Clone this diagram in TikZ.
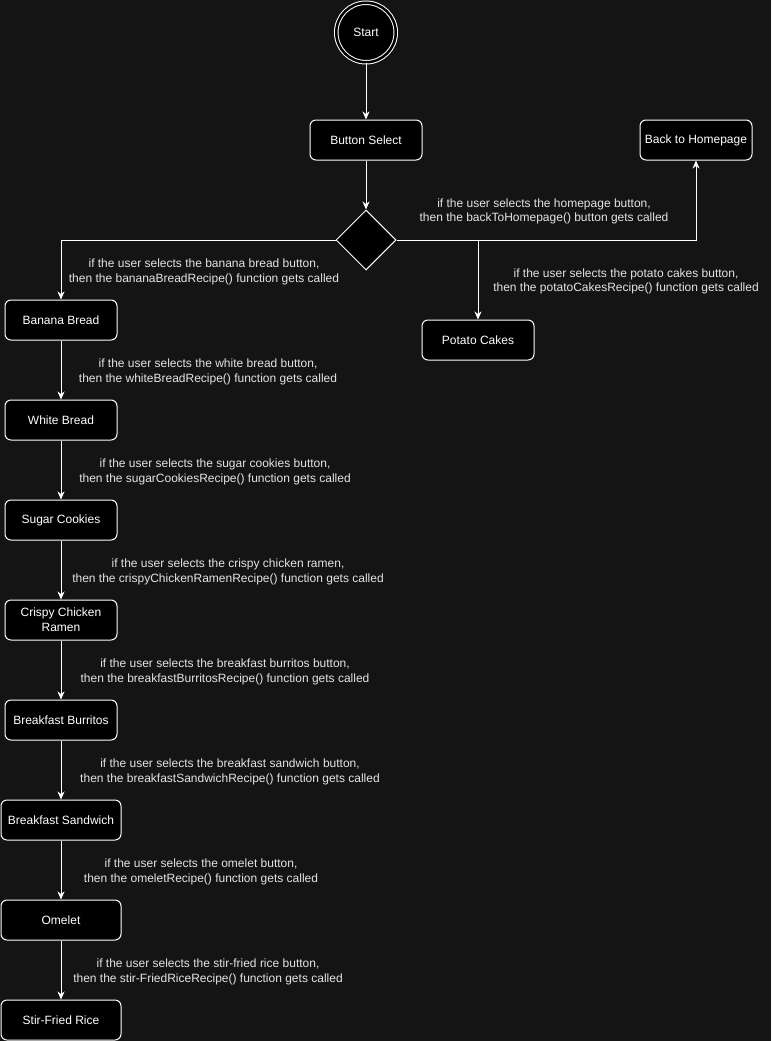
\documentclass[tikz,border=0pt]{standalone}
\usepackage{fontspec}
\setmainfont{Liberation Sans}
\usetikzlibrary{arrows.meta,shapes.geometric}
\definecolor{canvas}{HTML}{141414}
\definecolor{labeltext}{HTML}{E4E4E4}
\begin{document}
\begin{tikzpicture}[x=1pt,y=-1pt,
  box/.style={draw=white, fill=black, line width=1pt, rounded corners=6pt,
    minimum width=112pt, minimum height=40pt, inner sep=0pt,
    text=white, align=center, font=\fontsize{12}{15}\selectfont},
  widebox/.style={box, minimum width=120pt},
  startnode/.style={circle, draw=white, double=black, double distance=2.5pt,
    line width=1pt, fill=black, minimum size=59.5pt, inner sep=0pt,
    text=white, font=\fontsize{12}{15}\selectfont},
  choice/.style={diamond, draw=white, fill=black, line width=1pt,
    minimum width=60pt, minimum height=60pt, inner sep=0pt},
  flow/.style={draw=white, line width=1pt,
    -{Stealth[length=8pt,width=7pt,inset=2.5pt]}},
  cond/.style={text=labeltext, align=center, inner sep=0pt,
    font=\fontsize{12}{14.5}\selectfont}
]
  % canvas
  \fill[canvas] (0,0) rectangle (771,1041);
  \useasboundingbox (0,0) rectangle (771,1041);

  % top of the flow
  \node[startnode] (start) at (366,32.5) {Start};
  \node[box] (select) at (366,140) {Button Select};
  \node[choice] (pick) at (366,240) {};
  \node[box] (home) at (696,140) {Back to Homepage};
  \node[box] (potato) at (478,340) {Potato Cakes};

  % recipe column
  \node[box] (banana) at (61,320) {Banana Bread};
  \node[box] (white) at (61,420) {White Bread};
  \node[box] (sugar) at (61,520) {Sugar Cookies};
  \node[box] (ramen) at (61,620) {Crispy Chicken\\Ramen};
  \node[box] (burrito) at (61,720) {Breakfast Burritos};
  \node[widebox] (sandwich) at (61,820) {Breakfast Sandwich};
  \node[widebox] (omelet) at (61,920) {Omelet};
  \node[widebox] (rice) at (61,1020) {Stir-Fried Rice};

  % connectors
  \draw[flow] (start) -- (select);
  \draw[flow] (select) -- (pick);
  \draw[flow] (pick.east) -| (home.south);
  \draw[flow] (pick.east) -| (potato.north);
  \draw[flow] (pick.west) -| (banana.north);
  \draw[flow] (banana) -- (white);
  \draw[flow] (white) -- (sugar);
  \draw[flow] (sugar) -- (ramen);
  \draw[flow] (ramen) -- (burrito);
  \draw[flow] (burrito) -- (sandwich);
  \draw[flow] (sandwich) -- (omelet);
  \draw[flow] (omelet) -- (rice);

  % connector labels
  \node[cond] (lhome) at (544,211.5) {if the user selects the homepage button,\\then the backToHomepage() button gets called};
  \node[cond] (lpotato) at (626,281.5) {if the user selects the potato cakes button,\\then the potatoCakesRecipe() function gets called};
  \node[cond] (lbanana) at (204,272) {if the user selects the banana bread button,\\then the bananaBreadRecipe() function gets called};
  \node[cond] (lwhite) at (208,372) {if the user selects the white bread button,\\then the whiteBreadRecipe() function gets called};
  \node[cond] (lsugar) at (215,472) {if the user selects the sugar cookies button,\\then the sugarCookiesRecipe() function gets called};
  \node[cond] (lramen) at (228,572) {if the user selects the crispy chicken ramen,\\then the crispyChickenRamenRecipe() function gets called};
  \node[cond] (lburrito) at (225,672) {if the user selects the breakfast burritos button,\\then the breakfastBurritosRecipe() function gets called};
  \node[cond] (lsandwich) at (230,772) {if the user selects the breakfast sandwich button,\\then the breakfastSandwichRecipe() function gets called};
  \node[cond] (lomelet) at (201,872) {if the user selects the omelet button,\\then the omeletRecipe() function gets called};
  \node[cond] (lrice) at (208,972) {if the user selects the stir-fried rice button,\\then the stir-FriedRiceRecipe() function gets called};
\end{tikzpicture}
\end{document}
